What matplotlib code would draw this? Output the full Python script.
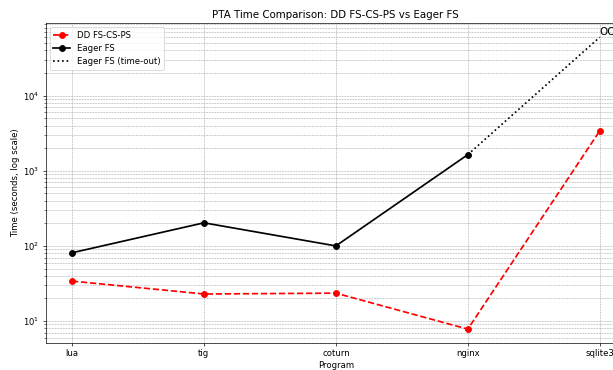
import matplotlib
matplotlib.use("Agg")
import matplotlib.pyplot as plt

programs = ["lua", "tig", "coturn", "nginx", "sqlite3"]
dd_times = [34, 22.9, 23.5, 7.8, 3400]
eager_times = [81, 203, 100, 1640]
timeout_value = 60000

fig = plt.figure(figsize=(10, 370 / 61.3), dpi=61.3)
ax = fig.add_axes([0.0744, 0.073, 0.947, 0.865])

x = list(range(len(programs)))
ax.plot(x, dd_times, "o--", color="red", lw=2, ms=7, label="DD FS-CS-PS")
ax.plot(x[:4], eager_times, "o-", color="black", lw=2, ms=7, label="Eager FS")
ax.plot([x[3], x[4]], [eager_times[-1], timeout_value], ":", color="black", lw=2,
        label="Eager FS (time-out)")
ax.text(x[4], timeout_value, "OOT", fontsize=12, ha="left", va="bottom")

ax.set_yscale("log")
ax.set_ylim(5.1, 9.3e4)
ax.set_xticks(x)
ax.set_xticklabels(programs)
ax.set_xlabel("Program")
ax.set_ylabel("Time (seconds, log scale)")
ax.set_title("PTA Time Comparison: DD FS-CS-PS vs Eager FS")
ax.legend(loc="upper left")
ax.grid(True, which="both", ls="--", lw=0.6, color="#a0a0a0")

fig.savefig("out.png", dpi=61.3)
